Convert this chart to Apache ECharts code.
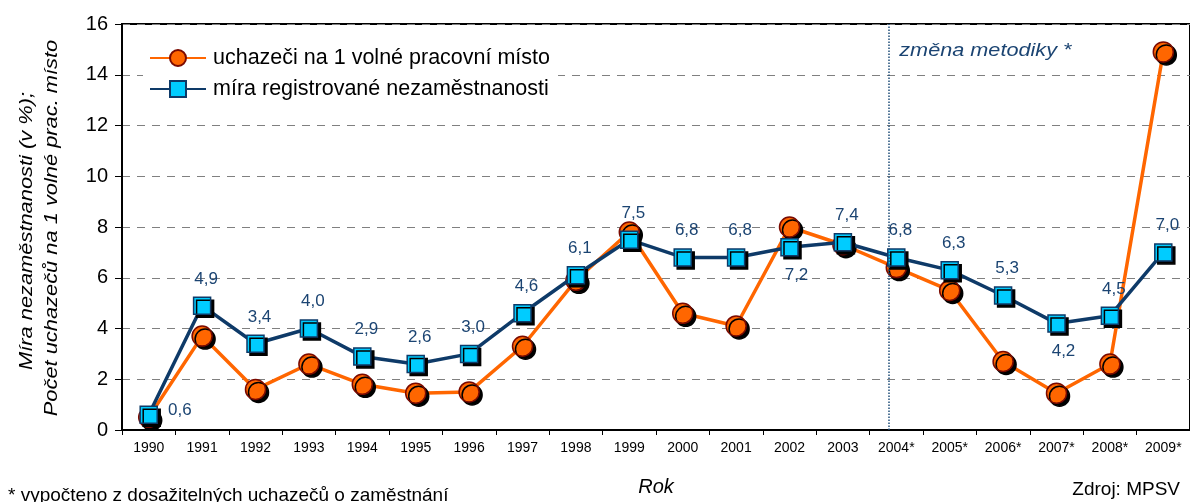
<!DOCTYPE html>
<html><head><meta charset="utf-8">
<script src="https://cdn.jsdelivr.net/npm/echarts@6/dist/echarts.min.js"></script>
<style>html,body{margin:0;padding:0;background:#fff}#c{width:1190px;height:502px}</style>
</head><body><div id="c"></div>
<script>
const categories = ['1990','1991','1992','1993','1994','1995','1996','1997','1998','1999','2000','2001','2002','2003','2004*','2005*','2006*','2007*','2008*','2009*'];
const uchazeci = [0.5,3.7,1.6,2.6,1.8,1.45,1.5,3.3,5.9,7.8,4.6,4.1,8.0,7.3,6.4,5.5,2.7,1.45,2.6,14.9];
const mira = [0.6,4.9,3.4,4.0,2.9,2.6,3.0,4.6,6.1,7.5,6.8,6.8,7.2,7.4,6.8,6.3,5.3,4.2,4.5,7.0];
const yTicks = {min:0, max:16, interval:2};
const methodChangeAt = 13.85; // position between 2003 and 2004*
const belowLabels = [12, 17];
const rightLabels = [0];

const F = 'Arial, "Liberation Sans", sans-serif';
const navy = '#0E3A68';
const labelColor = '#1B4472';

const miraData = mira.map((v,i)=>{
  let label;
  if (rightLabels.includes(i)) label = {position:'right', distance:10, offset:[0,-4]};
  else if (belowLabels.includes(i)) label = {position:'bottom', distance:10, offset:[7,0]};
  else label = {position:'top', distance:9, offset:[4,0]};
  return {value:v, label};
});

const chart = echarts.init(document.getElementById('c'));
const option = {
  animation:false,
  textStyle:{fontFamily:F},
  grid:{left:122, right:-3, top:24, bottom:72, show:true, borderColor:'#000', borderWidth:2, backgroundColor:'transparent'},
  legend:{
    orient:'vertical', left:143, top:41, itemGap:9, itemWidth:56, itemHeight:20,
    backgroundColor:'#fff', padding:[6,8,6,6],
    textStyle:{fontSize:21.5, color:'#000', fontFamily:F, padding:[0,0,0,2]},
    itemStyle:{shadowColor:'rgba(0,0,0,0)', shadowOffsetX:0, shadowOffsetY:0, shadowBlur:0},
    data:['uchazeči na 1 volné pracovní místo','míra registrované nezaměstnanosti']
  },
  xAxis:[{
    type:'category', data:categories, boundaryGap:true,
    axisLine:{lineStyle:{color:'#000', width:2}},
    axisTick:{show:true, length:5, lineStyle:{color:'#000', width:1}},
    axisLabel:{fontSize:14, color:'#000', margin:11, interval:0},
    name:'Rok', nameLocation:'middle', nameGap:47,
    nameTextStyle:{fontSize:20, fontStyle:'italic', color:'#000'}
  },{
    type:'value', min:-0.5, max:19.5, show:false
  }],
  yAxis:{
    type:'value', min:yTicks.min, max:yTicks.max, interval:yTicks.interval,
    axisLine:{show:true, onZero:false, lineStyle:{color:'#000', width:2}},
    axisTick:{show:true, length:7, lineStyle:{color:'#000', width:1}},
    axisLabel:{fontSize:20, color:'#000', margin:14},
    splitLine:{show:true, lineStyle:{color:'#808080', width:1, type:[8,7]}}
  },
  series:[{
    name:'uchazeči na 1 volné pracovní místo', type:'line', data:uchazeci,
    symbol:'circle', symbolSize:20,
    lineStyle:{color:'#FF6600', width:3.5},
    itemStyle:{color:'#FF6600', borderColor:'#7A0A00', borderWidth:1.5,
      shadowColor:'#000', shadowOffsetX:3, shadowOffsetY:3, shadowBlur:0},
    z:2
  },{
    name:'míra registrované nezaměstnanosti', type:'line', data:miraData,
    symbol:'rect', symbolSize:17,
    lineStyle:{color:navy, width:3.5},
    itemStyle:{color:'#00CCFF', borderColor:navy, borderWidth:1.5,
      shadowColor:'#000', shadowOffsetX:3, shadowOffsetY:3, shadowBlur:0},
    label:{show:true, fontSize:17, color:labelColor, formatter:p=>p.value.toFixed(1).replace('.',',')},
    z:3
  },{
    type:'line', xAxisIndex:1, data:[], silent:true,
    markLine:{symbol:'none', silent:true, label:{show:false},
      lineStyle:{color:'#1F4E79', type:'dotted', width:1.5},
      data:[{xAxis:methodChangeAt}]}
  }],
  graphic:[
    {type:'text', z:10, x:27, y:231, rotation:Math.PI/2, scaleX:1.15,
     style:{text:'Míra nezaměstnanosti (v %);', font:'italic 19px '+F, fill:'#000', textAlign:'center', textVerticalAlign:'middle'}},
    {type:'text', z:10, x:52, y:228, rotation:Math.PI/2, scaleX:1.15,
     style:{text:'Počet uchazečů na 1 volné prac. místo', font:'italic 19px '+F, fill:'#000', textAlign:'center', textVerticalAlign:'middle'}},
    {type:'text', z:10, x:8, y:496,
     style:{text:'* vypočteno z dosažitelných uchazečů o zaměstnání', font:'19px '+F, fill:'#000', textAlign:'left', textVerticalAlign:'middle'}},
    {type:'text', z:10, x:1180, y:490,
     style:{text:'Zdroj: MPSV', font:'19px '+F, fill:'#000', textAlign:'right', textVerticalAlign:'middle'}}
  ]
};
chart.setOption(option);
// annotation text next to the method-change line
const px = chart.convertToPixel({xAxisIndex:1, yAxisIndex:0}, [methodChangeAt, 15]);
chart.setOption({graphic:[
  option.graphic[0], option.graphic[1], option.graphic[2], option.graphic[3],
  {type:'text', z:10, x:px[0]+11, y:px[1]+1, scaleX:1.14,
   style:{text:'změna metodiky *', font:'italic 19px '+F, fill:labelColor, textAlign:'left', textVerticalAlign:'middle'}}
]});
</script>
</body></html>
